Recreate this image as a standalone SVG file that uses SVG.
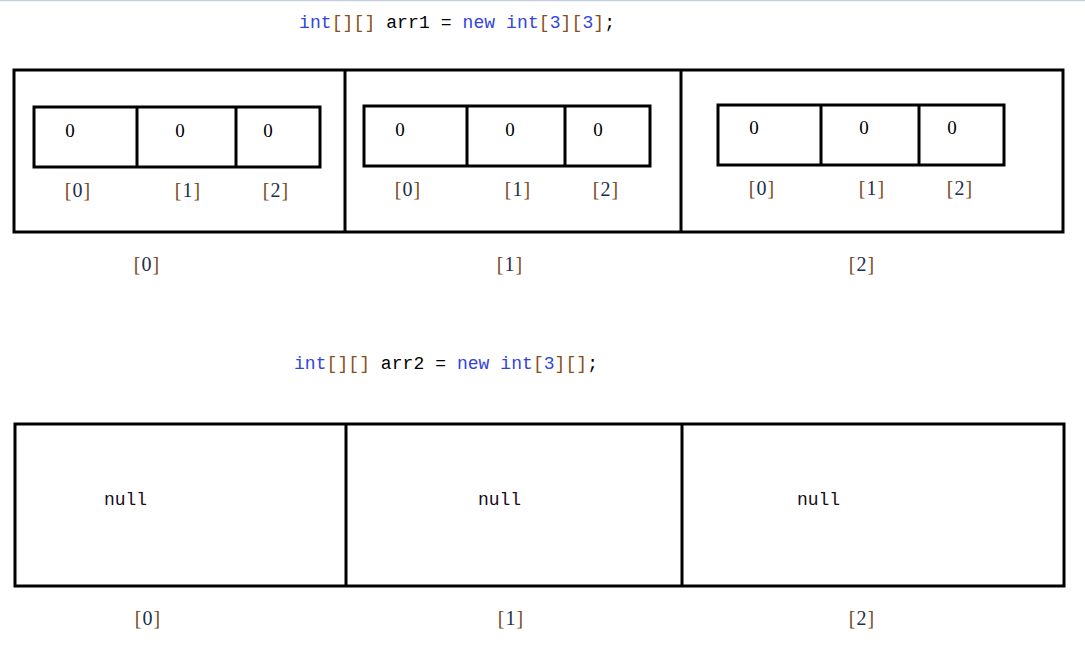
<svg xmlns="http://www.w3.org/2000/svg" width="1085" height="645" viewBox="0 0 1085 645">
<style>
.box{fill:none;stroke:#000;stroke-width:3}
.ln{stroke:#000;stroke-width:3}
.code{font-family:"Liberation Mono",monospace;font-size:18px;fill:#000}
.kw{fill:#3344dd}
.br{fill:#8a4e1c}
.num{fill:#3344dd}
.v{font-family:"Liberation Serif",serif;font-size:19px;fill:#000;text-anchor:middle}
.idx{font-family:"Liberation Serif",serif;font-size:20px;fill:#1d2f4a;text-anchor:middle;letter-spacing:1px}
.idx .b{fill:#7a4a1e}
.nul{font-family:"Liberation Mono",monospace;font-size:18px;fill:#1a0a1a}
</style>
<rect x="0" y="0" width="1085" height="645" fill="#fff"/>
<line x1="0" y1="0.5" x2="1085" y2="0.5" stroke="#c5d0e0" stroke-width="1.5"/>
<g id="code1"><text class="code" x="299" y="28" textLength="316" lengthAdjust="spacing"><tspan class="kw">int</tspan><tspan class="br">[][]</tspan> arr1 = <tspan class="kw">new</tspan> <tspan class="kw">int</tspan><tspan class="br">[</tspan><tspan class="num">3</tspan><tspan class="br">][</tspan><tspan class="num">3</tspan><tspan class="br">]</tspan>;</text></g>
<g id="arr1">
<rect class="box" x="14" y="70" width="1049" height="162"/>
<line class="ln" x1="345" y1="70" x2="345" y2="232"/>
<line class="ln" x1="681" y1="70" x2="681" y2="232"/>
</g>
<g id="arr1-0">
<rect class="box" x="34" y="107" width="286" height="60"/>
<line class="ln" x1="137" y1="107" x2="137" y2="167"/>
<line class="ln" x1="236" y1="107" x2="236" y2="167"/>
<text class="v" x="70" y="137">0</text><text class="v" x="180" y="137">0</text><text class="v" x="268" y="137">0</text>
<text class="idx" x="78" y="197"><tspan class="b">[</tspan>0<tspan class="b">]</tspan></text>
<text class="idx" x="188" y="197"><tspan class="b">[</tspan>1<tspan class="b">]</tspan></text>
<text class="idx" x="276" y="197"><tspan class="b">[</tspan>2<tspan class="b">]</tspan></text>
</g>
<g id="arr1-1">
<rect class="box" x="364" y="106" width="286" height="60"/>
<line class="ln" x1="467" y1="106" x2="467" y2="166"/>
<line class="ln" x1="565" y1="106" x2="565" y2="166"/>
<text class="v" x="400" y="136">0</text><text class="v" x="510" y="136">0</text><text class="v" x="598" y="136">0</text>
<text class="idx" x="408" y="196"><tspan class="b">[</tspan>0<tspan class="b">]</tspan></text>
<text class="idx" x="518" y="196"><tspan class="b">[</tspan>1<tspan class="b">]</tspan></text>
<text class="idx" x="606" y="196"><tspan class="b">[</tspan>2<tspan class="b">]</tspan></text>
</g>
<g id="arr1-2">
<rect class="box" x="718" y="105" width="286" height="60"/>
<line class="ln" x1="821" y1="105" x2="821" y2="165"/>
<line class="ln" x1="919" y1="105" x2="919" y2="165"/>
<text class="v" x="754" y="134">0</text><text class="v" x="864" y="134">0</text><text class="v" x="952" y="134">0</text>
<text class="idx" x="762" y="195"><tspan class="b">[</tspan>0<tspan class="b">]</tspan></text>
<text class="idx" x="872" y="195"><tspan class="b">[</tspan>1<tspan class="b">]</tspan></text>
<text class="idx" x="960" y="195"><tspan class="b">[</tspan>2<tspan class="b">]</tspan></text>
</g>
<g id="arr1-labels">
<text class="idx" x="147" y="271"><tspan class="b">[</tspan>0<tspan class="b">]</tspan></text>
<text class="idx" x="510" y="271"><tspan class="b">[</tspan>1<tspan class="b">]</tspan></text>
<text class="idx" x="862" y="271"><tspan class="b">[</tspan>2<tspan class="b">]</tspan></text>
</g>
<g id="code2"><text class="code" x="294" y="369" textLength="304" lengthAdjust="spacing"><tspan class="kw">int</tspan><tspan class="br">[][]</tspan> arr2 = <tspan class="kw">new</tspan> <tspan class="kw">int</tspan><tspan class="br">[</tspan><tspan class="num">3</tspan><tspan class="br">][]</tspan>;</text></g>
<g id="arr2">
<rect class="box" x="15" y="424" width="1049" height="162"/>
<line class="ln" x1="346" y1="424" x2="346" y2="586"/>
<line class="ln" x1="682" y1="424" x2="682" y2="586"/>
<text class="nul" x="104" y="505" textLength="43" lengthAdjust="spacing">null</text>
<text class="nul" x="478" y="505" textLength="43" lengthAdjust="spacing">null</text>
<text class="nul" x="797" y="505" textLength="43" lengthAdjust="spacing">null</text>
</g>
<g id="arr2-labels">
<text class="idx" x="148" y="625"><tspan class="b">[</tspan>0<tspan class="b">]</tspan></text>
<text class="idx" x="511" y="625"><tspan class="b">[</tspan>1<tspan class="b">]</tspan></text>
<text class="idx" x="862" y="625"><tspan class="b">[</tspan>2<tspan class="b">]</tspan></text>
</g>
<g id="connectors"></g>
</svg>
